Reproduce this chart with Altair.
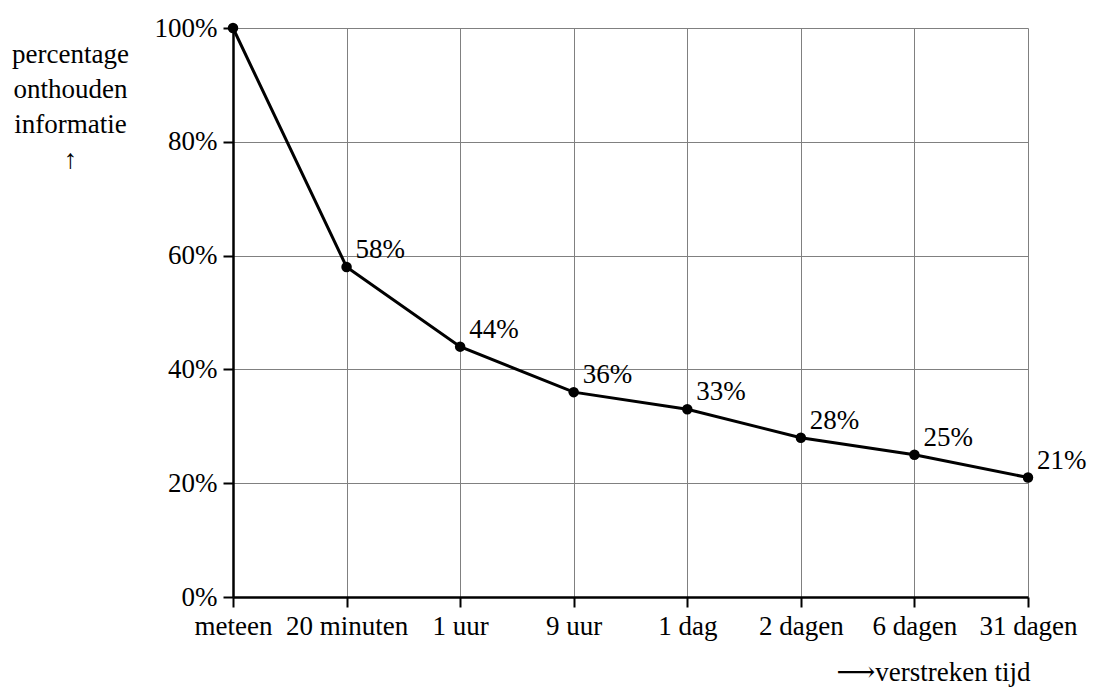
import altair as alt
import pandas as pd

categories = ["meteen", "20 minuten", "1 uur", "9 uur", "1 dag", "2 dagen", "6 dagen", "31 dagen"]
values = [100, 58, 44, 36, 33, 28, 25, 21]
labels = ["", "58%", "44%", "36%", "33%", "28%", "25%", "21%"]
y_ticks = [0, 20, 40, 60, 80, 100]

df = pd.DataFrame({"tijd": categories, "pct": values, "label": labels})

FONT = "'Times New Roman', 'Liberation Serif', 'DejaVu Serif', serif"
FS = 27

x_enc = alt.X(
    "tijd:N",
    sort=categories,
    scale=alt.Scale(type="point", padding=0),
    axis=alt.Axis(
        title="⟶verstreken tijd",
        titleFont=FONT, titleFontSize=FS, titleFontWeight="normal", titleColor="black",
        titleAlign="right", titleAnchor="end", titleX=797, titleY=83, titleBaseline="alphabetic",
        labelFont=FONT, labelFontSize=FS, labelColor="black", labelAngle=0, labelPadding=6,
        labelBaseline="top",
        domainColor="black", domainWidth=2.5,
        tickColor="black", tickWidth=2, tickSize=10,
        grid=True, gridColor="#808080", gridWidth=1,
    ),
)
y_enc = alt.Y(
    "pct:Q",
    scale=alt.Scale(domain=[0, 100], nice=False),
    axis=alt.Axis(
        values=y_ticks,
        title=["percentage", "onthouden", "informatie", "↑"],
        titleFont=FONT, titleFontSize=FS, titleFontWeight="normal", titleColor="black",
        titleAngle=0, titleAlign="center", titleX=-163, titleY=34, titleBaseline="alphabetic",
        titleLineHeight=35,
        labelFont=FONT, labelFontSize=FS, labelColor="black", labelPadding=6,
        labelExpr="datum.value + '%'",
        domainColor="black", domainWidth=2.5,
        tickColor="black", tickWidth=2, tickSize=10,
        grid=True, gridColor="#808080", gridWidth=1,
    ),
)

base = alt.Chart(df)
line = base.mark_line(color="black", strokeWidth=3).encode(x=x_enc, y=y_enc)
pts = base.mark_point(filled=True, color="black", size=110, opacity=1).encode(x=x_enc, y=y_enc)
txt = base.transform_filter("datum.label != ''").mark_text(
    align="left", baseline="middle", dx=9, dy=-17, font=FONT, fontSize=FS, color="black"
).encode(x=x_enc, y=y_enc, text="label:N")

chart = (line + pts + txt).properties(
    width=795, height=569,
    padding={"left": 233, "top": 28, "right": 67, "bottom": 90},
    autosize=alt.AutoSizeParams(type="none"),
    background="white",
).configure_view(stroke=None)

chart.save("out.html", embed_options={"renderer": "svg", "actions": False})
